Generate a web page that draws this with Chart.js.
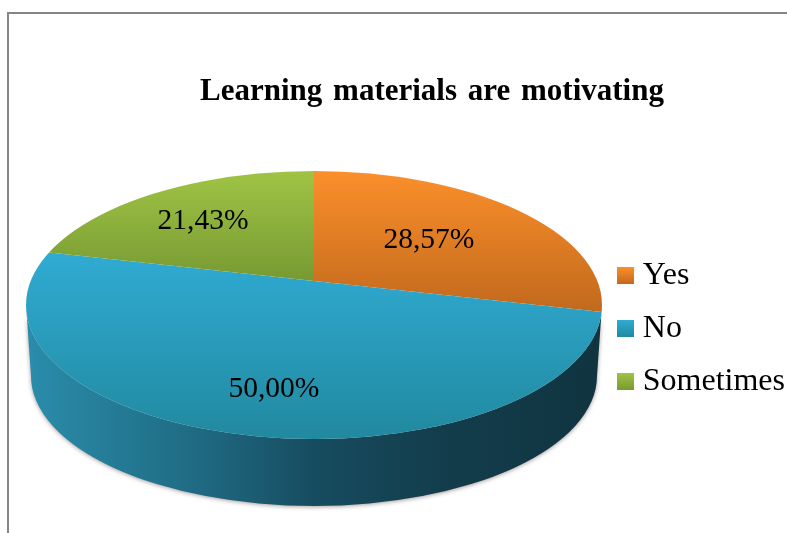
<!DOCTYPE html>
<html>
<head>
<meta charset="utf-8">
<style>
    html, body { margin: 0; padding: 0; background: #fff; overflow: hidden; }
    #wrap { position: relative; width: 787px; height: 533px; }
    #frame { position: absolute; left: 7px; top: 12px; right: 0; bottom: 0; border-left: 2px solid #868686; border-top: 2px solid #868686; }
    #chart { position: absolute; left: 0; top: 0; }
</style>
</head>
<body>
<div id="wrap">
    <div id="frame"></div>
    <canvas id="chart" width="787" height="533"></canvas>
</div>
<script src="https://cdn.jsdelivr.net/npm/chart.js@4"></script>
<script>
const titleText = 'Learning materials are motivating';
const categories = ['Yes', 'No', 'Sometimes'];
const shares = [28.57, 50.00, 21.43];

// top/bottom colours of each slice
const topColors = ['#fb8f2b', '#30abd3', '#9fc444'];
const bottomColors = ['#c2691d', '#21899f', '#789a33'];

// the pie is a flat circle seen at an angle: squash it about this point
const view = {x: 314, y: 281, squash: 0.47};
// outline of the tilted top face and of the underside
const face = {x: 314, y: 305, rx: 288, ry: 134};
const under = {x: 314, y: 376, rx: 283, ry: 130};
// screen height range of the gradient in each slice
const sliceSpans = [[171, 312], [253, 439], [171, 280]];

function sliceFill(context) {
    const chart = context.chart;
    const i = context.dataIndex;
    if (!chart.chartArea || i === undefined) {
        return topColors[i || 0];
    }
    const midY = (chart.chartArea.top + chart.chartArea.bottom) / 2;
    const toFlat = y => midY + (y - view.y) / view.squash;
    const g = chart.ctx.createLinearGradient(0, toFlat(sliceSpans[i][0]), 0, toFlat(sliceSpans[i][1]));
    g.addColorStop(0, topColors[i]);
    g.addColorStop(1, bottomColors[i]);
    return g;
}

function legendSwatch(i) {
    const c = document.createElement('canvas');
    c.width = 17;
    c.height = 17;
    const x = c.getContext('2d');
    const g = x.createLinearGradient(0, 0, 0, 17);
    g.addColorStop(0, topColors[i]);
    g.addColorStop(1, bottomColors[i]);
    x.fillStyle = g;
    x.fillRect(0, 0, 17, 17);
    return c;
}

const tiltedPie = {
    id: 'tiltedPie',
    beforeDraw(chart) {
        chart.ctx.wordSpacing = '3px';
    },
    beforeDatasetsDraw(chart) {
        // wall of the pie
        const ctx = chart.ctx;
        ctx.save();
        const g = ctx.createLinearGradient(face.x - face.rx, 0, face.x + face.rx, 0);
        g.addColorStop(0, '#2a8dab');
        g.addColorStop(0.3, '#1f6a82');
        g.addColorStop(0.5, '#174c60');
        g.addColorStop(0.72, '#133d4c');
        g.addColorStop(1, '#103440');
        ctx.fillStyle = g;
        ctx.shadowColor = 'rgba(60,40,40,0.45)';
        ctx.shadowBlur = 4;
        ctx.shadowOffsetY = 1;
        ctx.beginPath();
        ctx.ellipse(face.x, face.y, face.rx, face.ry, 0, 0, Math.PI);
        ctx.ellipse(under.x, under.y, under.rx, under.ry, 0, Math.PI, 0, true);
        ctx.closePath();
        ctx.fill();
        ctx.restore();
    },
    beforeDatasetDraw(chart) {
        const ctx = chart.ctx;
        const arc = chart.getDatasetMeta(0).data[0];
        ctx.save();
        ctx.beginPath();
        ctx.ellipse(face.x, face.y, face.rx, face.ry, 0, 0, Math.PI * 2);
        ctx.clip();
        ctx.translate(view.x, view.y);
        ctx.scale(1, view.squash);
        ctx.translate(-arc.x, -arc.y);
    },
    afterDatasetDraw(chart) {
        chart.ctx.restore();
    },
    afterDatasetsDraw(chart, args, opts) {
        const ctx = chart.ctx;
        ctx.save();
        ctx.fillStyle = '#000';
        ctx.font = opts.font;
        ctx.textAlign = 'center';
        ctx.textBaseline = 'middle';
        chart.getDatasetMeta(0).data.forEach((arc, i) => {
            const mid = (arc.startAngle + arc.endAngle) / 2;
            const x = view.x + Math.cos(mid) * opts.reach[i][0];
            const y = view.y + Math.sin(mid) * opts.reach[i][1] * view.squash;
            ctx.fillText(shares[i].toFixed(2).replace('.', ',') + '%', x, y + 2);
        });
        ctx.restore();
    }
};

new Chart(document.getElementById('chart'), {
    type: 'pie',
    data: {
        labels: categories,
        datasets: [{
            data: shares,
            backgroundColor: sliceFill,
            borderWidth: 0,
            clip: false
        }]
    },
    options: {
        responsive: false,
        animation: false,
        radius: 360,
        events: [],
        layout: {padding: {top: 0, right: -8, bottom: 4, left: 69}},
        plugins: {
            title: {
                display: true,
                text: titleText,
                color: '#000',
                font: {family: '"Liberation Serif"', size: 31, weight: 'bold', lineHeight: 1.2},
                padding: {top: 73, bottom: 18}
            },
            legend: {
                position: 'right',
                fullSize: false,
                labels: {
                    color: '#000',
                    font: {family: '"Liberation Serif"', size: 32},
                    usePointStyle: true,
                    pointStyleWidth: 2,
                    boxHeight: 17,
                    padding: 21,
                    generateLabels(chart) {
                        return categories.map((name, i) => ({
                            text: name,
                            pointStyle: legendSwatch(i),
                            fontColor: '#000',
                            lineWidth: 0,
                            index: i
                        }));
                    }
                }
            },
            tooltip: {enabled: false},
            tiltedPie: {
                font: '29.5px "Liberation Serif"',
                reach: [[147, 147], [180, 231], [178, 169]]
            }
        }
    },
    plugins: [tiltedPie]
});
</script>
</body>
</html>
